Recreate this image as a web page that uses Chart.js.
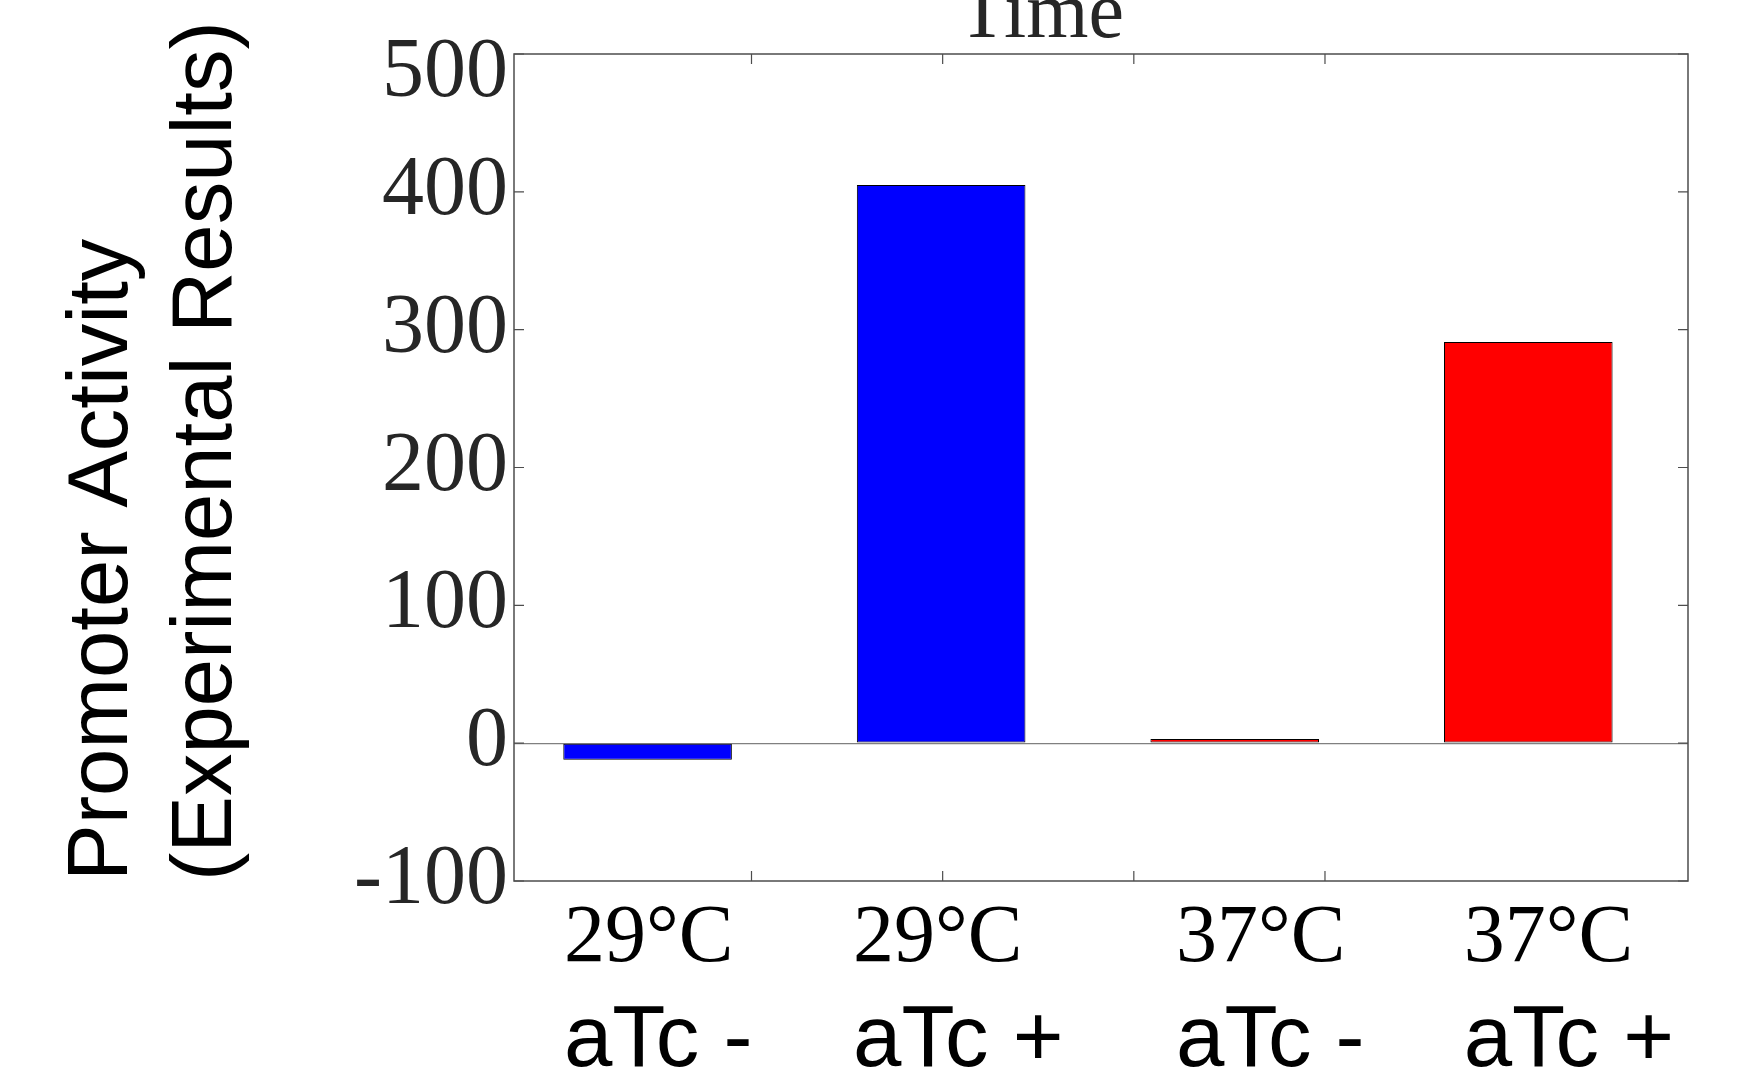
<!DOCTYPE html>
<html>
<head>
<meta charset="utf-8">
<title>Promoter Activity</title>
<script src="https://cdn.jsdelivr.net/npm/chart.js@4"></script>
<style>
  body { margin: 0; background: #fff; }
  #wrap { width: 1751px; height: 1078px; }
</style>
</head>
<body>
<div id="wrap"><canvas id="myChart"></canvas></div>
<script>
// data
const tempLabels = ['29°C', '29°C', '37°C', '37°C'];
const atcLabels = ['aTc -', 'aTc +', 'aTc -', 'aTc +'];
const barPos = [1, 2, 3, 4];
const activity = [-12, 405, 3, 291];
const barColors = ['#0000ff', '#0000ff', '#ff0000', '#ff0000'];
const yTicks = [-100, 0, 100, 200, 300, 400, 500];
// labels were placed by hand, left aligned at these x values
const labelAt = [0.715, 1.70, 2.80, 3.78];
// the "Time" axis only shows its tick marks
const timeTicks = [1, 2, 3, 4];

const ctx = document.getElementById('myChart');

// MATLAB style box with inward ticks
const boxPlugin = {
  id: 'box',
  beforeDraw(chart) {
    // top label sits lower, like in the figure
    chart.scales.y.getLabelItems().forEach(it => {
      if (it.label === '500' && !it._moved) {
        it.options.translation[1] += 20;
        it._moved = true;
      }
    });
  },
  afterDraw(chart) {
    const c = chart.ctx;
    const a = chart.chartArea;
    const len = 10;
    c.save();
    c.strokeStyle = '#4d4d4d';
    c.lineWidth = 1.5;
    c.strokeRect(a.left, a.top, a.right - a.left, a.bottom - a.top);
    c.lineWidth = 1.2;
    c.beginPath();
    yTicks.forEach(v => {
      const y = chart.scales.y.getPixelForValue(v);
      c.moveTo(a.left, y); c.lineTo(a.left + len, y);
      c.moveTo(a.right, y); c.lineTo(a.right - len, y);
    });
    timeTicks.forEach(v => {
      const x = chart.scales.xt.getPixelForValue(v);
      c.moveTo(x, a.bottom); c.lineTo(x, a.bottom - len);
      c.moveTo(x, a.top); c.lineTo(x, a.top + len);
    });
    c.stroke();
    c.restore();
  }
};

const xMin = 0.545, xMax = 4.544;

new Chart(ctx, {
  type: 'bar',
  data: {
    datasets: [{
      data: activity.map((v, i) => ({ x: barPos[i], y: v })),
      backgroundColor: barColors,
      borderColor: '#000',
      borderWidth: 1,
      borderSkipped: false,
      barPercentage: 0.586,
      categoryPercentage: 1,
      xAxisID: 'x',
      yAxisID: 'y'
    }]
  },
  options: {
    responsive: true,
    maintainAspectRatio: false,
    animation: false,
    layout: { padding: { left: 0, right: 63, top: 0, bottom: 0 } },
    plugins: {
      legend: { display: false },
      tooltip: { enabled: false },
      title: {
        display: true,
        fullSize: false,
        text: 'Time      ',
        color: '#262626',
        font: { family: 'Liberation Serif', size: 80, weight: 'normal', lineHeight: 1 },
        padding: { top: -24, bottom: -2 }
      }
    },
    scales: {
      x: {
        type: 'linear',
        position: 'bottom',
        min: xMin,
        max: xMax,
        offset: false,
        afterBuildTicks(scale) { scale.ticks = labelAt.map(v => ({ value: v })); },
        grid: { display: false },
        border: { display: false },
        ticks: {
          color: '#000',
          padding: 9,
          align: 'start',
          maxRotation: 0,
          autoSkip: false,
          callback: (v, i) => tempLabels[i],
          font: { family: 'Liberation Serif', size: 82, lineHeight: 1 }
        },
        afterFit(scale) { scale.height = 94; }
      },
      x3: {
        type: 'linear',
        position: 'bottom',
        min: xMin,
        max: xMax,
        offset: false,
        afterBuildTicks(scale) { scale.ticks = labelAt.map(v => ({ value: v })); },
        grid: { display: false },
        border: { display: false },
        ticks: {
          color: '#000',
          padding: 16,
          align: 'start',
          maxRotation: 0,
          autoSkip: false,
          callback: (v, i) => atcLabels[i],
          font: { family: 'Liberation Sans', size: 87, lineHeight: 1 }
        },
        afterFit(scale) { scale.height = 103; }
      },
      xt: {
        type: 'linear',
        display: false,
        offset: false,
        min: -0.2424,
        max: 5.899
      },
      y: {
        min: -100,
        max: 500,
        afterBuildTicks(scale) { scale.ticks = yTicks.map(v => ({ value: v })); },
        grid: {
          drawTicks: false,
          color: c => (c.tick && c.tick.value === 0 ? '#808080' : 'rgba(0,0,0,0)'),
          lineWidth: 1.2
        },
        border: { display: false },
        ticks: {
          color: '#262626',
          padding: 6,
          font: { family: 'Liberation Serif', size: 84, lineHeight: 1 }
        },
        title: {
          display: true,
          text: ['Promoter Activity', '(Experimental Results)'],
          align: 'start',
          color: '#000',
          font: { family: 'Liberation Sans', size: 85, lineHeight: 1.224 },
          padding: { top: 52, bottom: 0 }
        },
        afterFit(scale) { scale.width = 514; }
      }
    }
  },
  plugins: [boxPlugin]
});
</script>
</body>
</html>
